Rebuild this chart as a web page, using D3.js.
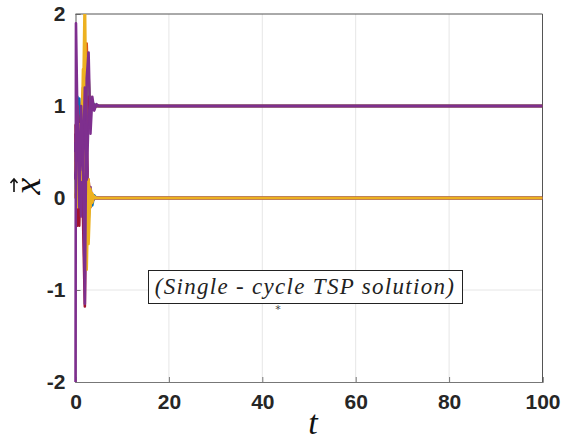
<!DOCTYPE html>
<html>
<head>
<meta charset="utf-8">
<script src="https://cdn.jsdelivr.net/npm/d3@7"></script>
<style>
  body { margin: 0; background: #fff; }
  svg { display: block; }
</style>
</head>
<body>
<div id="container"></div>
<script>
// time samples (the states settle after t ~ 6, then stay flat to 100)
var tSamples = [0, 0.1, 0.4, 0.8, 1.2, 1.6, 2.0, 2.4, 2.8, 3.2, 3.6, 4.0, 4.5, 5.0, 6.0, 100];

// state trajectories
var blueA   = [0.60, 0.45, 1.10, 0.50, 0.05, 0.30, -0.20, 0.10, -0.25, 0.10, -0.08, 0.03, 0.00, 0.00, 0.00, 0.00];
var blueB   = [0.45, 0.60, 0.20, 1.08, 0.40, 0.90, 0.60, 1.15, 0.85, 1.08, 0.96, 1.02, 1.00, 1.00, 1.00, 1.00];
var orangeA = [0.05, 0.00, 0.30, -0.20, 0.10, 0.40, 0.00, 0.15, -0.05, 0.02, 0.00, 0.00, 0.00, 0.00, 0.00, 0.00];
var orangeB = [0.80, 0.50, 1.00, 0.30, 0.90, 1.20, 0.70, 1.68, 0.90, 1.10, 0.97, 1.01, 1.00, 1.00, 1.00, 1.00];
var greenA  = [0.30, 0.10, 0.50, 0.20, 0.70, 0.40, 1.00, 0.80, 1.33, 0.90, 1.06, 0.98, 1.00, 1.00, 1.00, 1.00];
var cyanA   = [0.30, 0.00, 0.20, 0.50, -0.10, 0.30, -0.15, 0.10, -0.20, 0.05, -0.02, 0.00, 0.00, 0.00, 0.00, 0.00];
var redA    = [0.40, 0.30, 0.80, -0.30, 0.50, -0.20, -1.18, 0.60, -0.10, 0.08, -0.04, 0.00, 0.00, 0.00, 0.00, 0.00];
var redB    = [0.20, 0.50, -0.30, 0.60, 0.90, 0.20, 1.30, 0.80, 1.10, 0.95, 1.02, 1.00, 1.00, 1.00, 1.00, 1.00];
var redC    = [0.70, 0.20, 0.60, 0.10, 0.40, -0.05, 0.55, -0.30, 0.20, -0.10, 0.04, 0.00, 0.00, 0.00, 0.00, 0.00];
var purpleC = [0.20, 0.80, 0.10, 0.70, -0.20, 0.60, 0.10, 0.50, 0.00, 0.12, -0.04, 0.00, 0.00, 0.00, 0.00, 0.00];
var yellowB = [0.00, 0.20, -0.10, 0.40, 0.20, 0.90, 2.30, 0.30, -0.50, 0.10, -0.05, 0.02, 0.00, 0.00, 0.00, 0.00];
var yellowA = [0.50, 0.30, 0.10, 0.80, 0.30, 1.40, 0.60, -0.78, 0.20, -0.10, 0.05, 0.00, 0.00, 0.00, 0.00, 0.00];
var purpleB = [0.60, 0.40, 1.00, -0.10, 0.80, 0.30, 1.20, 0.20, 0.90, 1.05, 0.98, 1.01, 1.00, 1.00, 1.00, 1.00];
var purpleA = [-2.30, 1.90, 0.90, 0.20, 1.00, 0.50, -1.15, 1.30, 1.58, 0.70, 1.10, 0.95, 1.02, 1.00, 1.00, 1.00];

var seriesList  = [blueA, blueB, orangeA, orangeB, greenA, cyanA, redA, redB, redC, purpleC, yellowB, yellowA, purpleB, purpleA];
var seriesColor = ["#0072BD", "#0072BD", "#D95319", "#D95319", "#77AC30", "#4DBEEE",
                   "#A2142F", "#A2142F", "#A2142F", "#7E2F8E", "#EDB120", "#EDB120", "#7E2F8E", "#7E2F8E"];

var xTicks = [0, 20, 40, 60, 80, 100];
var yTicks = [-2, -1, 0, 1, 2];
var noteText = "(Single - cycle TSP solution)";

function draw() {
    var width = 567, height = 441;
    var pL = 75.5, pR = 542.5, pT = 14, pB = 382;

    var svg = d3.select("#container").append("svg")
        .attr("width", width)
        .attr("height", height);

    var x = d3.scaleLinear().domain([0, 100]).range([pL, pR]);
    var y = d3.scaleLinear().domain([-2, 2]).range([pB, pT]);

    // grid
    svg.append("g")
        .selectAll("line")
        .data(xTicks.slice(1, -1))
        .enter().append("line")
        .attr("x1", function(d) { return x(d); })
        .attr("x2", function(d) { return x(d); })
        .attr("y1", pT).attr("y2", pB)
        .style("stroke", "#e6e6e6").style("stroke-width", 1);
    svg.append("g")
        .selectAll("line")
        .data(yTicks.slice(1, -1))
        .enter().append("line")
        .attr("x1", pL).attr("x2", pR)
        .attr("y1", function(d) { return y(d); })
        .attr("y2", function(d) { return y(d); })
        .style("stroke", "#e6e6e6").style("stroke-width", 1);

    // axes (drawn under the lines, like matlab's purple trace over the y axis)
    var xAxis = d3.axisBottom(x).tickValues(xTicks).tickSize(-5).tickPadding(12).tickFormat(function(d) { return String(d); });
    var yAxis = d3.axisLeft(y).tickValues(yTicks).tickSize(-5).tickPadding(10).tickFormat(function(d) { return String(d); });

    var gx = svg.append("g").attr("transform", "translate(0," + pB + ")").call(xAxis);
    var gy = svg.append("g").attr("transform", "translate(" + pL + ",0)").call(yAxis);
    [gx, gy].forEach(function(g) {
        g.select(".domain").style("stroke", "#777").style("stroke-width", 1.2);
        g.selectAll(".tick line").style("stroke", "#777");
        g.selectAll("text")
            .style("font-family", "'Liberation Sans', Arial, sans-serif")
            .style("font-weight", "bold")
            .style("font-size", "21px")
            .style("fill", "#262626");
    });

    // box top/right
    svg.append("path")
        .attr("d", "M" + pL + "," + pT + "H" + pR + "V" + pB)
        .style("fill", "none").style("stroke", "#555").style("stroke-width", 1);

    // clip (a little slack on the left so the t=0 trace shows full width)
    svg.append("clipPath").attr("id", "plotclip")
        .append("rect")
        .attr("x", pL - 2).attr("y", pT)
        .attr("width", pR - pL + 2).attr("height", pB - pT);

    var line = d3.line()
        .x(function(d, i) { return x(tSamples[i]); })
        .y(function(d) { return y(d); });

    svg.append("g")
        .attr("clip-path", "url(#plotclip)")
        .selectAll("path")
        .data(seriesList)
        .enter().append("path")
        .attr("d", function(d) { return line(d); })
        .style("fill", "none")
        .style("stroke", function(d, i) { return seriesColor[i]; })
        .style("stroke-width", 2.6)
        .style("stroke-linejoin", "round");

    // axis labels
    svg.append("text")
        .attr("x", 313).attr("y", 434)
        .attr("text-anchor", "middle")
        .style("font-family", "'Liberation Serif', 'DejaVu Serif', serif")
        .style("font-style", "italic")
        .style("font-size", "34px")
        .style("fill", "#111")
        .text("t");

    var yl = svg.append("g").attr("transform", "translate(30,186) rotate(-90)");
    yl.append("text")
        .attr("x", 0).attr("y", 10)
        .attr("text-anchor", "middle")
        .style("font-family", "'Liberation Serif', 'DejaVu Serif', serif")
        .style("font-style", "italic")
        .style("font-size", "38px")
        .style("fill", "#111")
        .text("x");
    // vector arrow over the x
    yl.append("path")
        .attr("d", "M-6,-16H7M3,-19.5L7,-16L3,-12.5")
        .style("fill", "none").style("stroke", "#111").style("stroke-width", 1.6);

    // annotation box
    svg.append("rect")
        .attr("x", 148.5).attr("y", 270.5)
        .attr("width", 314).attr("height", 33)
        .style("fill", "#fff").style("stroke", "#222").style("stroke-width", 1);
    svg.append("text")
        .attr("x", 305).attr("y", 294)
        .attr("text-anchor", "middle")
        .style("font-family", "'Liberation Serif', 'DejaVu Serif', serif")
        .style("font-style", "italic")
        .style("font-size", "23px")
        .style("letter-spacing", "1.3px")
        .style("fill", "#222")
        .text(noteText);
    svg.append("text")
        .attr("x", 278).attr("y", 313)
        .attr("text-anchor", "middle")
        .style("font-family", "'DejaVu Sans', sans-serif")
        .style("font-size", "11px")
        .style("fill", "#444")
        .text("*");
}

window.onload = draw;
</script>
</body>
</html>
